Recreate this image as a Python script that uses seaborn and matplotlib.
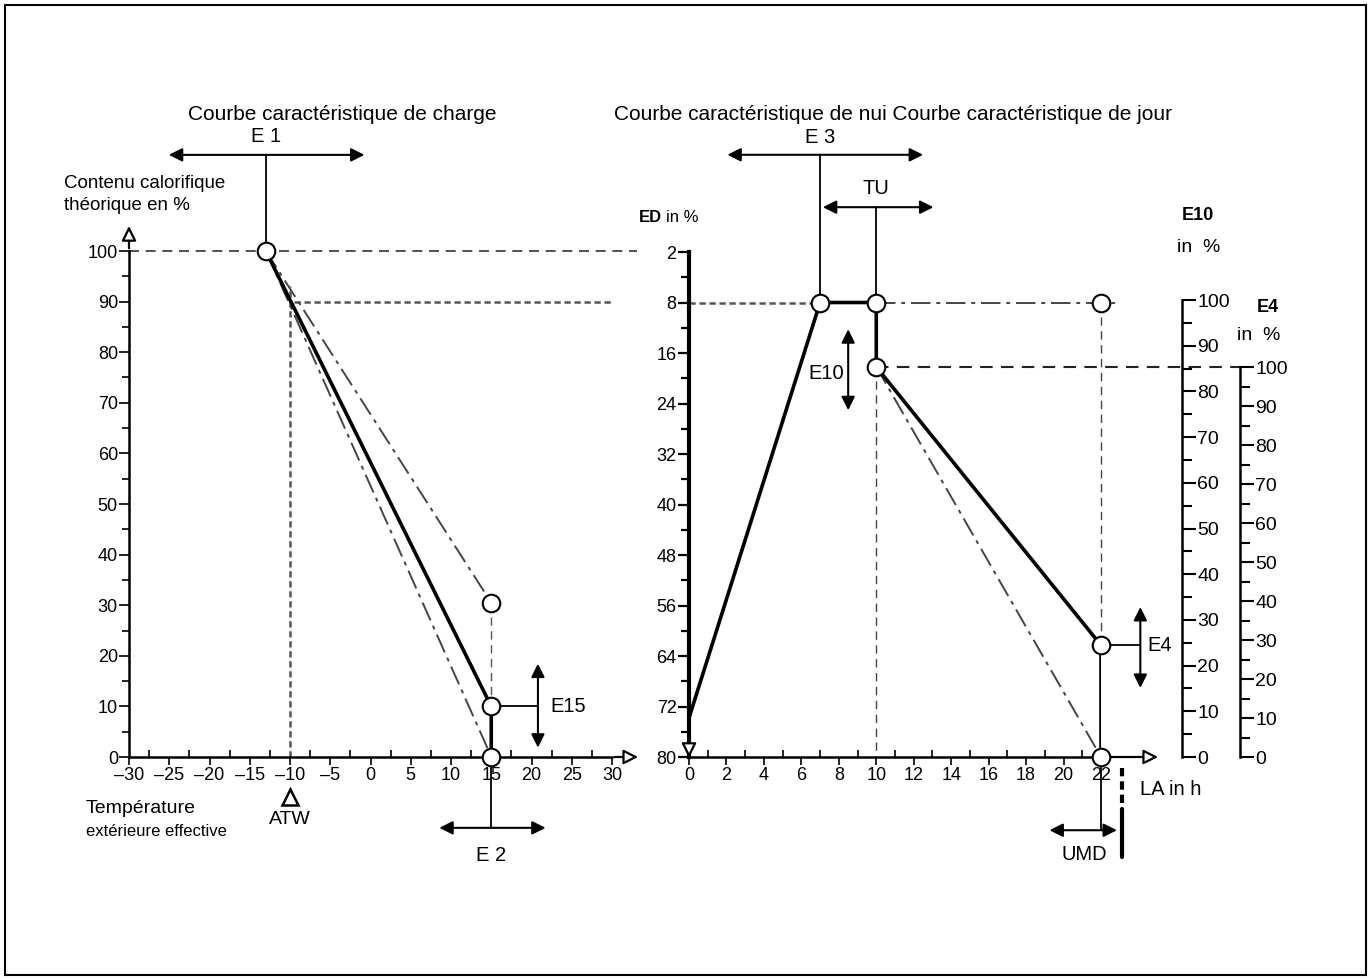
import matplotlib.pyplot as plt
import seaborn as sns
import pandas as pd
from matplotlib.ticker import MultipleLocator, FixedLocator
from matplotlib.patches import Rectangle

# ---- data: left panel (charge curve) ----
temp_ticks = [-30, -25, -20, -15, -10, -5, 0, 5, 10, 15, 20, 25, 30]
temp_labels = ['–30', '–25', '–20', '–15', '–10', '–5', '0', '5', '10', '15', '20', '25', '30']
heat_ticks = [0, 10, 20, 30, 40, 50, 60, 70, 80, 90, 100]

charge_temp = [-13, 15, 15]
charge_heat = [100, 10, 0]
upper_temp = [-13, 15]
upper_heat = [100, 30.5]
lower_temp = [-13, 14.6]
lower_heat = [100, 1.5]
left_pts_temp = [-13, 15, 15, 15]
left_pts_heat = [100, 30.5, 10, 0]
atw_temp = -10

# ---- data: right panel (night / day curve) ----
hour_ticks = [0, 2, 4, 6, 8, 10, 12, 14, 16, 18, 20, 22]
ed_ticks = [0, 8, 16, 24, 32, 40, 48, 56, 64, 72, 80]
ed_labels = ['2', '8', '16', '24', '32', '40', '48', '56', '64', '72', '80']
day_hours = [0, 7, 10, 10, 22, 22]
day_ed = [73.8, 8, 8, 18.2, 62.3, 80]
alt_hours = [10, 22]
alt_ed = [18.2, 80]
right_pts_h = [7, 10, 22, 10, 22, 22]
right_pts_ed = [8, 8, 8, 18.2, 62.3, 80]
e10_ticks = [0, 10, 20, 30, 40, 50, 60, 70, 80, 90, 100]
e4_ticks = [0, 10, 20, 30, 40, 50, 60, 70, 80, 90, 100]

W, H = 1372, 980


def fx(px):
    return px / W


def fy(py):
    return 1 - py / H


sns.set_theme(style="white")
plt.rcParams['font.family'] = ['Liberation Sans', 'DejaVu Sans']
plt.rcParams.update({'text.color': 'black', 'xtick.color': 'black', 'ytick.color': 'black',
                     'axes.edgecolor': 'black', 'axes.labelcolor': 'black',
                     'axes.linewidth': 1.8})

fig = plt.figure(figsize=(W / 100, H / 100), dpi=100)
fig.patches.append(Rectangle((fx(5), fy(975)), fx(1361), 970 / H, transform=fig.transFigure,
                             fill=False, ec='black', lw=1.5))

dash = (0, (6, 4))
dot = (0, (2.5, 1.5))
dashdot = (0, (10, 3, 2, 3))
arrow_kw = dict(arrowstyle='<|-|>', color='black', lw=1.5, mutation_scale=20)
open_arrow = dict(arrowstyle='-|>', fc='white', ec='black', lw=1.6, mutation_scale=22)

# ================= left panel =================
axl = fig.add_axes([fx(129), fy(757), 483 / W, 506 / H])
axl.set_xlim(-30, 30)
axl.set_ylim(0, 100)
for s in ['top', 'right']:
    axl.spines[s].set_visible(False)
axl.xaxis.set_major_locator(FixedLocator(temp_ticks))
axl.set_xticklabels(temp_labels)
axl.xaxis.set_minor_locator(MultipleLocator(2.5))
axl.yaxis.set_major_locator(FixedLocator(heat_ticks))
axl.yaxis.set_minor_locator(MultipleLocator(5))
axl.tick_params(axis='x', which='major', direction='out', length=6, width=1.2, labelsize=13, pad=1, bottom=True)
axl.tick_params(axis='x', which='minor', direction='in', length=5, width=1.2, bottom=True)
axl.tick_params(axis='y', which='major', direction='out', length=7, width=1.2, labelsize=13, pad=1, left=True)
axl.tick_params(axis='y', which='minor', direction='out', length=5, width=1.2, left=True)
axl.patch.set_alpha(0)

# reference lines
axl.plot([-30, 33.1], [100, 100], ls=dash, color='#333', lw=1.2, clip_on=False)
axl.plot([-9.5, 30], [90, 90], ls=dot, color='#555', lw=1.8, clip_on=False)
axl.plot([atw_temp, atw_temp], [0, 93], ls=dot, color='#555', lw=1.8, clip_on=False)
axl.plot([15, 15], [30.5, 10], ls=dash, color='#555', lw=1.0, clip_on=False)

# curves
sns.lineplot(x=upper_temp, y=upper_heat, ax=axl, sort=False, estimator=None,
             color='#444', lw=1.4, ls=dashdot)
sns.lineplot(x=lower_temp, y=lower_heat, ax=axl, sort=False, estimator=None,
             color='#444', lw=1.4, ls=dashdot)
sns.lineplot(x=charge_temp, y=charge_heat, ax=axl, sort=False, estimator=None,
             color='black', lw=2.6)

# axis arrows
axl.annotate('', xy=(33.6, 0), xytext=(30, 0), arrowprops=open_arrow, annotation_clip=False)
axl.annotate('', xy=(-30, 105.5), xytext=(-30, 100), arrowprops=open_arrow, annotation_clip=False)

# E1
axl.plot([-13, -13], [100, 119], color='black', lw=1.3, clip_on=False)
axl.annotate('', xy=(-25.4, 119), xytext=(-0.4, 119), arrowprops=arrow_kw, annotation_clip=False)
axl.text(-13, 122.6, 'E 1', ha='center', va='center', fontsize=14.5)
# E2
axl.plot([15, 15], [0, -14], color='black', lw=1.3, clip_on=False)
axl.annotate('', xy=(8.2, -14), xytext=(22.1, -14), arrowprops=arrow_kw, annotation_clip=False)
axl.text(15, -19.4, 'E 2', ha='center', va='center', fontsize=14.5)
# E15
axl.plot([15, 20.8], [10, 10], color='black', lw=1.3, clip_on=False)
axl.annotate('', xy=(20.8, 19), xytext=(20.8, 1.3), arrowprops=arrow_kw, annotation_clip=False)
axl.text(22.3, 10, 'E15', ha='left', va='center', fontsize=14.5)
# ATW
axl.plot([atw_temp], [-8.0], marker='^', ms=11, mfc='white', mec='black', mew=1.8, clip_on=False)
axl.text(atw_temp, -12.4, 'ATW', ha='center', va='center', fontsize=14)

sns.scatterplot(x=left_pts_temp, y=left_pts_heat, ax=axl, s=160, color='white',
                edgecolor='black', linewidth=1.5, zorder=6, clip_on=False)

# ================= right panel =================
axr = fig.add_axes([fx(689), fy(757), 412 / W, 505 / H])
axr.set_xlim(0, 22)
axr.set_ylim(80, 0)
for s in ['top', 'right']:
    axr.spines[s].set_visible(False)
axr.spines['left'].set_linewidth(3)
axr.xaxis.set_major_locator(FixedLocator(hour_ticks))
axr.xaxis.set_minor_locator(MultipleLocator(1))
axr.yaxis.set_major_locator(FixedLocator(ed_ticks))
axr.set_yticklabels(ed_labels)
axr.yaxis.set_minor_locator(MultipleLocator(4))
axr.tick_params(axis='x', which='major', direction='out', length=6, width=1.2, labelsize=13, pad=1, bottom=True)
axr.tick_params(axis='x', which='minor', direction='in', length=5, width=1.2, bottom=True)
axr.tick_params(axis='y', which='major', direction='out', length=8, width=1.6, labelsize=13, pad=1, left=True)
axr.tick_params(axis='y', which='minor', direction='out', length=6, width=1.6, left=True)
axr.patch.set_alpha(0)

axr.plot([0, 7], [8, 8], ls=dot, color='#555', lw=1.8, clip_on=False)
axr.plot([10, 22.8], [8, 8], ls=dashdot, color='#444', lw=1.4, clip_on=False)
axr.plot([22, 22], [8, 62.3], ls=dash, color='#444', lw=1.0, clip_on=False)
axr.plot([10, 10], [18.2, 80], ls=dash, color='#444', lw=1.0, clip_on=False)
axr.plot([10, 29.4], [18.2, 18.2], ls=dash, color='#222', lw=1.5, clip_on=False)

sns.lineplot(x=alt_hours, y=alt_ed, ax=axr, sort=False, estimator=None,
             color='#444', lw=1.4, ls=dashdot)
sns.lineplot(x=day_hours, y=day_ed, ax=axr, sort=False, estimator=None,
             color='black', lw=2.6)

axr.annotate('', xy=(25.2, 80), xytext=(22, 80), arrowprops=open_arrow, annotation_clip=False)
axr.annotate('', xy=(0, 80.6), xytext=(0, 74), arrowprops=open_arrow, annotation_clip=False)

# E3
axr.plot([7, 7], [8, -15.4], color='black', lw=1.3, clip_on=False)
axr.annotate('', xy=(1.9, -15.4), xytext=(12.65, -15.4), arrowprops=arrow_kw, annotation_clip=False)
axr.text(7, -18.1, 'E 3', ha='center', va='center', fontsize=14.5)
# TU
axr.plot([10, 10], [8, -7.1], color='black', lw=1.3, clip_on=False)
axr.annotate('', xy=(7.0, -7.1), xytext=(13.2, -7.1), arrowprops=arrow_kw, annotation_clip=False)
axr.text(10, -10.0, 'TU', ha='center', va='center', fontsize=14.5)
# E10
axr.annotate('', xy=(8.5, 11.8), xytext=(8.5, 25.5), arrowprops=arrow_kw, annotation_clip=False)
axr.text(8.25, 19.3, 'E10', ha='right', va='center', fontsize=14.5)
# E4
axr.plot([22, 24.1], [62.3, 62.3], color='black', lw=1.3, clip_on=False)
axr.annotate('', xy=(24.1, 55.8), xytext=(24.1, 69.5), arrowprops=arrow_kw, annotation_clip=False)
axr.text(24.5, 62.3, 'E4', ha='left', va='center', fontsize=14.5)
# UMD
axr.plot([22, 22], [80, 91.6], color='black', lw=1.3, clip_on=False)
axr.annotate('', xy=(19.1, 91.6), xytext=(23.0, 91.6), arrowprops=arrow_kw, annotation_clip=False)
axr.plot([23.1, 23.1], [81.8, 87.6], color='black', lw=3, ls=(0, (2, 1.2)), clip_on=False)
axr.plot([23.1, 23.1], [88.2, 95.8], color='black', lw=3, clip_on=False)
axr.text(21.1, 95.5, 'UMD', ha='center', va='center', fontsize=14.5)
axr.text(24.1, 85.2, 'LA in h', ha='left', va='center', fontsize=14.5)

sns.scatterplot(x=right_pts_h, y=right_pts_ed, ax=axr, s=160, color='white',
                edgecolor='black', linewidth=1.5, zorder=6, clip_on=False)

# ================= E10 / E4 scales =================
for xpos, top_py, ticks in [(1182, 300, e10_ticks), (1240, 367, e4_ticks)]:
    ax_s = fig.add_axes([fx(xpos) - 0.0005, fy(757), 0.0005, (757 - top_py) / H])
    ax_s.set_ylim(0, 100)
    ax_s.set_xticks([])
    for s in ['top', 'left', 'bottom']:
        ax_s.spines[s].set_visible(False)
    ax_s.spines['right'].set_linewidth(1.8)
    ax_s.yaxis.tick_right()
    ax_s.yaxis.set_major_locator(FixedLocator(ticks))
    ax_s.yaxis.set_minor_locator(MultipleLocator(5))
    ax_s.tick_params(axis='y', which='major', direction='out', length=10, width=1.5, labelsize=14, pad=1, right=True)
    ax_s.tick_params(axis='y', which='minor', direction='out', length=7, width=1.5, right=True)
    ax_s.patch.set_alpha(0)

# ================= figure texts =================
fig.text(fx(342), fy(114), 'Courbe caractéristique de charge', ha='center', va='center', fontsize=15)
fig.text(fx(893), fy(114), 'Courbe caractéristique de nui Courbe caractéristique de jour',
         ha='center', va='center', fontsize=15)
fig.text(fx(64), fy(183), 'Contenu calorifique', ha='left', va='center', fontsize=13.5)
fig.text(fx(64), fy(206), 'théorique en %', ha='left', va='center', fontsize=13.5)
fig.text(fx(86), fy(808), 'Température', ha='left', va='center', fontsize=14)
fig.text(fx(86), fy(832), 'extérieure effective', ha='left', va='center', fontsize=12)
fig.text(fx(662), fy(217), 'ED', ha='right', va='center', fontsize=12, fontweight='bold')
fig.text(fx(666), fy(217), 'in %', ha='left', va='center', fontsize=12)
fig.text(fx(1182), fy(215), 'E10', ha='left', va='center', fontsize=13, fontweight='bold')
fig.text(fx(1177), fy(248), 'in  %', ha='left', va='center', fontsize=14)
fig.text(fx(1257), fy(307), 'E4', ha='left', va='center', fontsize=13, fontweight='bold')
fig.text(fx(1237), fy(335), 'in  %', ha='left', va='center', fontsize=14)

fig.savefig('out.png', dpi=100)
